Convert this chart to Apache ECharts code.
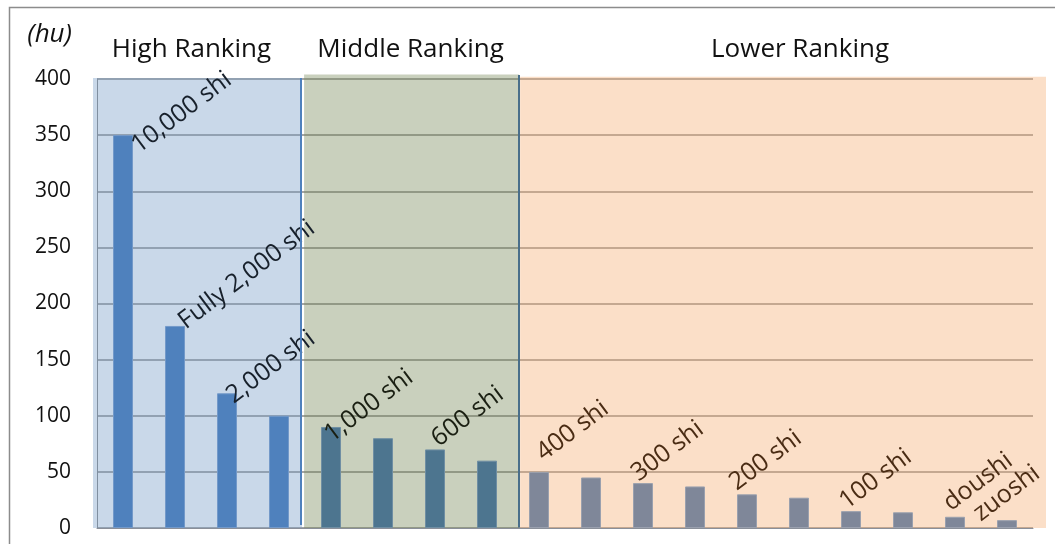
<!DOCTYPE html>
<html><head><meta charset="utf-8">
<script src="https://cdn.jsdelivr.net/npm/echarts@6/dist/echarts.min.js"></script>
<style>html,body{margin:0;padding:0;background:#fff}#c{width:1055px;height:544px}</style>
</head><body><div id="c"></div>
<script>
// ---- data ----
const categories = ['1','2','3','4','5','6','7','8','9','10','11','12','13','14','15','16','17','18'];
const households = [350,180,120,100,90,80,70,60,50,45,40,37,30,27,15,14,10,7];
const rankLabels = ['10,000 shi','Fully 2,000 shi','2,000 shi','','1,000 shi','','600 shi','','400 shi','','300 shi','','200 shi','','100 shi','','doushi','zuoshi'];
const regionNames = ['High Ranking','Middle Ranking','Lower Ranking'];
const regionFirst = [0,4,8];
const regionLast = [3,7,17];
const yAxisName = '(hu)';

// ---- style / layout ----
const FONT = 'Open Sans';
const barColors = ['#4f81bd','#4d758f','#7f8799'];
const barBorders = ['#7399c9','#6f8ea3','#9aa0ae'];
const labelColors = ['#17202b','#1a1f12','#4a2c14'];
const areaColors = ['rgba(120,158,200,0.4)','rgba(120,138,90,0.4)','rgba(245,175,118,0.4)'];
// small visual adjustments of the region boxes (in category-band units / axis units)
const areaAdjL = [-0.08,-0.02,0.135];
const areaAdjR = [-0.06,0.115,0.25];
const areaTop = [401,404,402];
const titleOffsets = [[-6,0],[-1,3.5],[17,1]];
const labelPos = {0:[29,23],1:[24,8],2:[20,15],4:[14,20],6:[17,2],8:[18,-6],10:[9,3],12:[3,1],14:[9,3],16:[9,-1],17:[-13,6]};
const LABEL_ROT = 37;

function groupOf(i){ for(let g=0; g<regionFirst.length; g++){ if(i>=regionFirst[g] && i<=regionLast[g]) return g; } return 0; }

const barData = households.map((v,i)=>{
  const g = groupOf(i);
  const item = {value:v, itemStyle:{color:barColors[g], borderColor:barBorders[g], borderWidth:1}};
  if (rankLabels[i]) {
    item.label = {show:true, formatter:rankLabels[i], position:labelPos[i]||[10,0], rotate:LABEL_ROT,
      align:'left', verticalAlign:'bottom', color:labelColors[g], fontSize:25, fontFamily:FONT};
  }
  return item;
});

const areaData = regionNames.map((name,g)=>[
  {name:name, xAxis:regionFirst[g]+areaAdjL[g], yAxis:areaTop[g], itemStyle:{color:areaColors[g]},
   label:{offset:titleOffsets[g]}},
  {xAxis:regionLast[g]+1+areaAdjR[g], yAxis:0}
]);

const N = categories.length;
const chart = echarts.init(document.getElementById('c'), null, {renderer:'canvas'});
chart.setOption({
  animation:false,
  backgroundColor:'#fff',
  textStyle:{fontFamily:FONT},
  grid:[
    {left:97, right:22, top:79, bottom:16, containLabel:false},
    {left:93, right:9, top:74, bottom:16, containLabel:false}
  ],
  xAxis:[
    {type:'category', data:categories, gridIndex:0, axisLabel:{show:false}, axisTick:{show:false},
     axisLine:{show:true, lineStyle:{color:'#8a8f99', width:1}}},
    {type:'value', gridIndex:1, min:-0.08, max:N+0.25, show:false}
  ],
  yAxis:[
    {type:'value', gridIndex:0, min:0, max:400, interval:50,
    name:yAxisName, nameLocation:'end', nameGap:31,
    nameTextStyle:{fontStyle:'italic', fontSize:26, color:'#111', align:'right', padding:[0,25,0,0], fontFamily:FONT},
    axisLine:{show:true, lineStyle:{color:'#868686', width:1}},
    axisTick:{show:false},
    axisLabel:{fontSize:21, color:'#111', margin:26, fontFamily:FONT},
    splitLine:{lineStyle:{color:'#868686', width:1.5}}},
    {type:'value', gridIndex:1, min:0, max:404.5, show:false}
  ],
  graphic:[{type:'rect', left:7, top:5, silent:true, shape:{width:1100, height:600},
    style:{fill:'none', stroke:'#8c8c8c', lineWidth:1.5}, z:-1}],
  series:[
    {type:'line', xAxisIndex:1, yAxisIndex:1, data:[], z:1, silent:true,
     markArea:{silent:true, label:{show:true, position:'top', distance:15, fontSize:26, color:'#111', fontFamily:FONT},
       data:areaData},
     markLine:{silent:true, symbol:'none', label:{show:false},
       data:[
         [{xAxis:3.92, yAxis:2.7, lineStyle:{color:'#4f81bd', width:2, type:'solid'}},{xAxis:3.92, yAxis:401}],
         [{xAxis:8.1, yAxis:0.5, lineStyle:{color:'#4a6f8a', width:2, type:'solid'}},{xAxis:8.1, yAxis:403.5}]
       ]}},
    {type:'bar', xAxisIndex:0, yAxisIndex:0, data:barData, barWidth:20, z:3}
  ]
});
</script></body></html>
